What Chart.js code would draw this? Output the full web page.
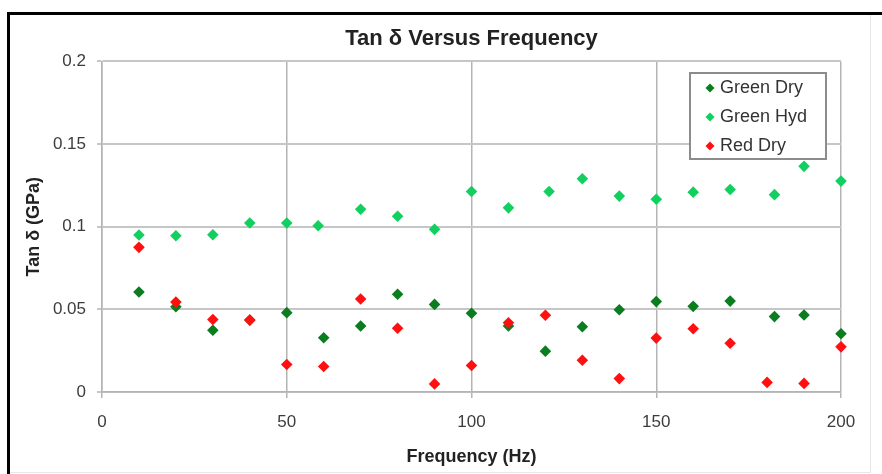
<!DOCTYPE html>
<html>
<head>
<meta charset="utf-8">
<script src="https://cdn.jsdelivr.net/npm/chart.js@4/dist/chart.umd.min.js"></script>
<style>
body{margin:0;background:#fff;}
#wrap{position:relative;width:882px;height:474px;overflow:hidden;}
#c{position:absolute;left:0;top:0;}
.ln{position:absolute;}
</style>
</head>
<body>
<div id="wrap">
<canvas id="c" width="882" height="474"></canvas>
<div class="ln" style="left:7px;top:12px;width:875px;height:3px;background:#000"></div>
<div class="ln" style="left:7px;top:12px;width:3px;height:462px;background:#000"></div>
<div class="ln" style="left:870px;top:15px;width:1px;height:458px;background:#e8e8e8"></div>
<div class="ln" style="left:10px;top:472px;width:861px;height:1px;background:#e8e8e8"></div>
</div>
<script>
// values
const freqGreenDry=[10,20,30,40,50,60,70,80,90,100,110,120,130,140,150,160,170,182,190,200];
const greenDry=[0.0605,0.0516,0.0374,0.0435,0.048,0.0328,0.0399,0.0591,0.053,0.0476,0.0399,0.0247,0.0395,0.0498,0.0547,0.0518,0.055,0.0456,0.0466,0.0352];
const freqGreenHyd=[10,20,30,40,50,58.5,70,80,90,100,110,121,130,140,150,160,170,182,190,200];
const greenHyd=[0.095,0.0945,0.0951,0.1022,0.1022,0.1006,0.1106,0.1063,0.0984,0.1213,0.1114,0.1213,0.129,0.1185,0.1166,0.1209,0.1225,0.1194,0.1365,0.1276];
const freqRedDry=[10,20,30,40,50,60,70,80,90,100,110,120,130,140,150,160,170,180,190,200];
const redDry=[0.0875,0.0544,0.0439,0.0435,0.0166,0.0154,0.0563,0.0386,0.0049,0.016,0.0419,0.0464,0.0192,0.0081,0.0326,0.0383,0.0295,0.0058,0.0052,0.0273];
const xTicks=[0,50,100,150,200];
const yTicks=[0,0.05,0.1,0.15,0.2];

const pts=(xs,ys)=>xs.map((x,i)=>({x:x,y:ys[i]}));
const FONT="'Liberation Sans', Arial, sans-serif";

// legend box drawn inside the plot, like the original
const boxLegend={
  id:'boxLegend',
  afterDraw(chart){
    const ctx=chart.ctx;
    const x0=690,y0=73,w=136,h=86;
    ctx.save();
    ctx.fillStyle='#fff';
    ctx.fillRect(x0,y0,w,h);
    ctx.strokeStyle='#8c8c8c';
    ctx.lineWidth=2;
    ctx.strokeRect(x0,y0,w,h);
    ctx.font='18px '+FONT;
    ctx.textBaseline='middle';
    chart.data.datasets.forEach((ds,i)=>{
      const yy=y0+15+i*29;
      ctx.fillStyle=ds.backgroundColor;
      ctx.beginPath();
      ctx.moveTo(x0+20,yy-4.5);ctx.lineTo(x0+24.5,yy);ctx.lineTo(x0+20,yy+4.5);ctx.lineTo(x0+15.5,yy);
      ctx.closePath();ctx.fill();
      ctx.fillStyle='#333';
      ctx.fillText(ds.label,x0+30,yy);
    });
    ctx.restore();
  }
};

new Chart(document.getElementById('c'),{
  type:'scatter',
  data:{
    datasets:[
      {label:'Green Dry',data:pts(freqGreenDry,greenDry),backgroundColor:'#0a7d1e',order:2,clip:false},
      {label:'Green Hyd',data:pts(freqGreenHyd,greenHyd),backgroundColor:'#12d060',order:1,clip:false},
      {label:'Red Dry',data:pts(freqRedDry,redDry),backgroundColor:'#ff1010',order:0,clip:false}
    ]
  },
  options:{
    responsive:false,
    animation:false,
    devicePixelRatio:1,
    layout:{padding:{left:0,right:41,top:0,bottom:0}},
    elements:{point:{pointStyle:'rectRot',radius:5.8,borderWidth:0}},
    plugins:{
      legend:{display:false},
      tooltip:{enabled:false},
      title:{
        display:true,
        fullSize:false,
        text:'Tan δ Versus Frequency',
        color:'#222',
        font:{family:FONT,size:22,weight:'bold'},
        padding:{top:26,bottom:9}
      }
    },
    scales:{
      x:{
        type:'linear',min:0,max:200,
        afterBuildTicks:s=>{s.ticks=xTicks.map(v=>({value:v}));},
        afterFit:s=>{s.height=82;},
        grid:{color:'#b4b4b4',lineWidth:1.5,tickLength:6},
        border:{color:'#b4b4b4',width:1.5},
        ticks:{color:'#3c3c3c',font:{family:FONT,size:17},padding:14,maxRotation:0},
        title:{display:true,text:'Frequency (Hz)',color:'#222',font:{family:FONT,size:18,weight:'bold'},padding:{top:0,bottom:6}}
      },
      y:{
        min:0,max:0.2,
        afterBuildTicks:s=>{s.ticks=yTicks.map(v=>({value:v}));},
        afterFit:s=>{s.width=102;},
        grid:{color:'#c6c6c6',lineWidth:2,tickLength:5},
        border:{color:'#b4b4b4',width:1.5},
        ticks:{color:'#3c3c3c',font:{family:FONT,size:17},padding:11,callback:v=>String(v)},
        title:{display:true,text:'Tan δ (GPa)',color:'#222',font:{family:FONT,size:18,weight:'bold'},padding:{top:23,bottom:0}}
      }
    }
  },
  plugins:[boxLegend]
});
</script>
</body>
</html>
